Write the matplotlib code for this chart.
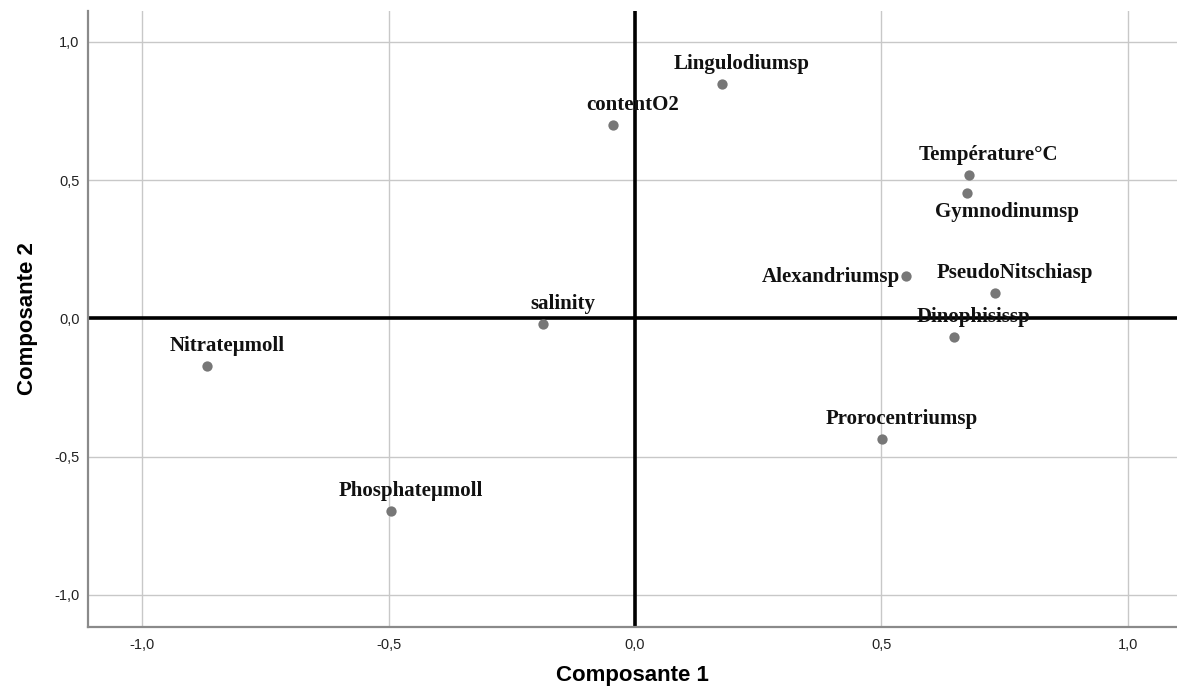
import matplotlib
matplotlib.use("Agg")
import matplotlib.pyplot as plt

names = ["Lingulodiumsp", "contentO2", "Température°C", "Gymnodinumsp",
         "Alexandriumsp", "PseudoNitschiasp", "Dinophisissp", "salinity",
         "Nitrateµmoll", "Phosphateµmoll", "Prorocentriumsp"]
comp1 = [0.176, -0.045, 0.677, 0.673, 0.550, 0.730, 0.647, -0.187, -0.868, -0.495, 0.501]
comp2 = [0.847, 0.699, 0.518, 0.453, 0.153, 0.091, -0.068, -0.021, -0.172, -0.697, -0.436]
tick_vals = [-1.0, -0.5, 0.0, 0.5, 1.0]
tick_labels = ["-1,0", "-0,5", "0,0", "0,5", "1,0"]

# label placement (pixel offsets of label centre from point, horizontal alignment)
label_off = {
    "Gymnodinumsp": (40, -19, "center"),
    "Alexandriumsp": (-6, -1, "right"),
}
default_off = (20, 20, "center")

fig = plt.figure(figsize=(11.77, 6.98), dpi=100)
ax = fig.add_axes([88/1177, 71/698, 1 - 88/1177, 616/698])
ax.set_xlim(-1.11, 1.1)
ax.set_ylim(-1.116, 1.111)

ax.set_xticks(tick_vals)
ax.set_xticklabels(tick_labels)
ax.set_yticks(tick_vals)
ax.set_yticklabels(tick_labels)
ax.grid(True, color="#c8c8c8", linewidth=1.0)
ax.set_axisbelow(True)
ax.tick_params(length=0, labelsize=10.5, colors="#222222")
ax.tick_params(axis="x", pad=8)
ax.tick_params(axis="y", pad=6)
for lab in ax.get_xticklabels() + ax.get_yticklabels():
    lab.set_family("Liberation Sans")

for s in ["top", "right"]:
    ax.spines[s].set_visible(False)
for s in ["left", "bottom"]:
    ax.spines[s].set_color("#8a8a8a")
    ax.spines[s].set_linewidth(1.6)

ax.axhline(0, color="black", linewidth=2.6, zorder=2)
ax.axvline(0, color="black", linewidth=2.6, zorder=2)

ax.scatter(comp1, comp2, s=55, color="#777777", zorder=3, linewidths=0)

for n, x, y in zip(names, comp1, comp2):
    dx, dy, ha = label_off.get(n, default_off)
    ax.annotate(n, (x, y), xytext=(dx, dy), textcoords="offset pixels",
                ha=ha, va="center", fontsize=15, fontweight="bold",
                family="Liberation Serif", color="#111111", zorder=4)

ax.set_xlabel("Composante 1", fontsize=16, fontweight="bold",
              family="Liberation Sans", labelpad=9)
ax.set_ylabel("Composante 2", fontsize=16, fontweight="bold",
              family="Liberation Sans", labelpad=12)

fig.savefig("out.png", dpi=100)
